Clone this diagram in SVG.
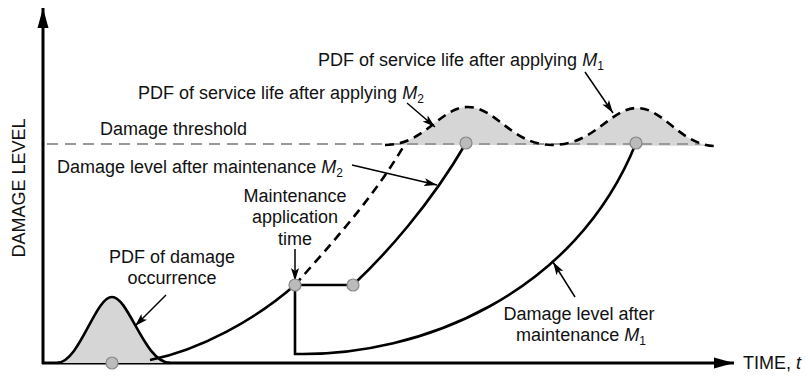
<svg xmlns="http://www.w3.org/2000/svg" width="806" height="376" viewBox="0 0 806 376">
<style>
text{font-family:"Liberation Sans",Arial,sans-serif;font-size:18px;fill:#111}
.it{font-style:italic}
.axis{stroke:#000;stroke-width:3;fill:none}
.curve{stroke:#000;stroke-width:2.6;fill:none}
.dash{stroke:#000;stroke-width:2.6;fill:none;stroke-dasharray:9 6}
.thr{stroke:#999;stroke-width:2.2;fill:none;stroke-dasharray:11 7}
.pt{fill:#bbb;stroke:#888;stroke-width:1.2}
.fillg{fill:#d6d6d6;stroke:none}
.lead{stroke:#000;stroke-width:1.5;fill:none;marker-end:url(#ah)}
</style>
<defs>
<marker id="ah" markerUnits="userSpaceOnUse" markerWidth="14" markerHeight="10" refX="13" refY="5" orient="auto">
<path d="M0,1 L13,5 L0,9 L3,5 z" fill="#000"/>
</marker>
<marker id="axh" markerUnits="userSpaceOnUse" markerWidth="22" markerHeight="14" refX="20" refY="7" orient="auto">
<path d="M0,1.5 L20,7 L0,12.5 z" fill="#000"/>
</marker>
</defs>

<g id="axes">
<line class="axis" x1="43" y1="364" x2="43" y2="8" marker-end="url(#axh)"/>
<line class="axis" x1="42" y1="363" x2="734" y2="363" marker-end="url(#axh)"/>
<text transform="translate(25,188) rotate(-90)" text-anchor="middle">DAMAGE LEVEL</text>
<text x="743" y="369">TIME, <tspan class="it">t</tspan></text>
</g>

<g id="pdf-damage">
<path class="fillg" d="M57 363 C80 362 95 297 112 297 C129 297 144 362 170 363 Z"/>
<path class="curve" d="M57 363 C80 362 95 297 112 297 C129 297 144 362 170 363"/>
</g>

<g id="pdf-service">
<path class="fillg" d="M385 145 C425 145 440 107 468 107 C496 107 512 145 552 145 Z"/>
<path class="fillg" d="M552 145 C595 145 610 108 637 108 C664 108 680 145 715 146 Z"/>
</g>

<g id="threshold">
<line class="thr" x1="47" y1="144" x2="700" y2="144"/>
<text x="100" y="135">Damage threshold</text>
</g>

<g id="connectors">
<path class="dash" d="M385 145 C425 145 440 107 468 107 C496 107 512 145 552 145 C595 145 610 108 637 108 C664 108 680 145 715 146"/>
<path class="curve" d="M150 360 C200 350 255 320 295 285"/>
<path class="dash" d="M295 285 C330 245 372 200 405 144"/>
<path class="curve" d="M295 285 H353 C385 255 430 205 466 143"/>
<path class="curve" d="M295 285 V354 H297 C420 356 575 295 636 143"/>
<line class="lead" x1="166" y1="295" x2="135" y2="326"/>
<line class="lead" x1="295" y1="249" x2="295" y2="281"/>
<line class="lead" x1="352" y1="165" x2="437" y2="185"/>
<line class="lead" x1="407" y1="103" x2="435" y2="127"/>
<line class="lead" x1="585" y1="72" x2="613" y2="113"/>
<line class="lead" x1="575" y1="297" x2="553" y2="262"/>
</g>

<g id="points">
<circle class="pt" cx="112" cy="363" r="6"/>
<circle class="pt" cx="295" cy="285" r="6"/>
<circle class="pt" cx="353" cy="285" r="6"/>
<circle class="pt" cx="466" cy="143" r="6"/>
<circle class="pt" cx="636" cy="143" r="6"/>
</g>

<g id="labels">
<text x="318" y="66">PDF of service life after applying <tspan class="it">M</tspan><tspan font-size="12" dy="4">1</tspan></text>
<text x="138" y="99">PDF of service life after applying <tspan class="it">M</tspan><tspan font-size="12" dy="4">2</tspan></text>
<text x="57" y="173">Damage level after maintenance <tspan class="it">M</tspan><tspan font-size="12" dy="4">2</tspan></text>
<text text-anchor="middle"><tspan x="295" y="202">Maintenance</tspan><tspan x="295" y="223">application</tspan><tspan x="295" y="245">time</tspan></text>
<text text-anchor="middle"><tspan x="172" y="263">PDF of damage</tspan><tspan x="172" y="284">occurrence</tspan></text>
<text text-anchor="middle" x="579" y="320">Damage level after</text>
<text text-anchor="middle" x="581" y="341">maintenance <tspan class="it">M</tspan><tspan font-size="12" dy="4">1</tspan></text>
</g>
</svg>
